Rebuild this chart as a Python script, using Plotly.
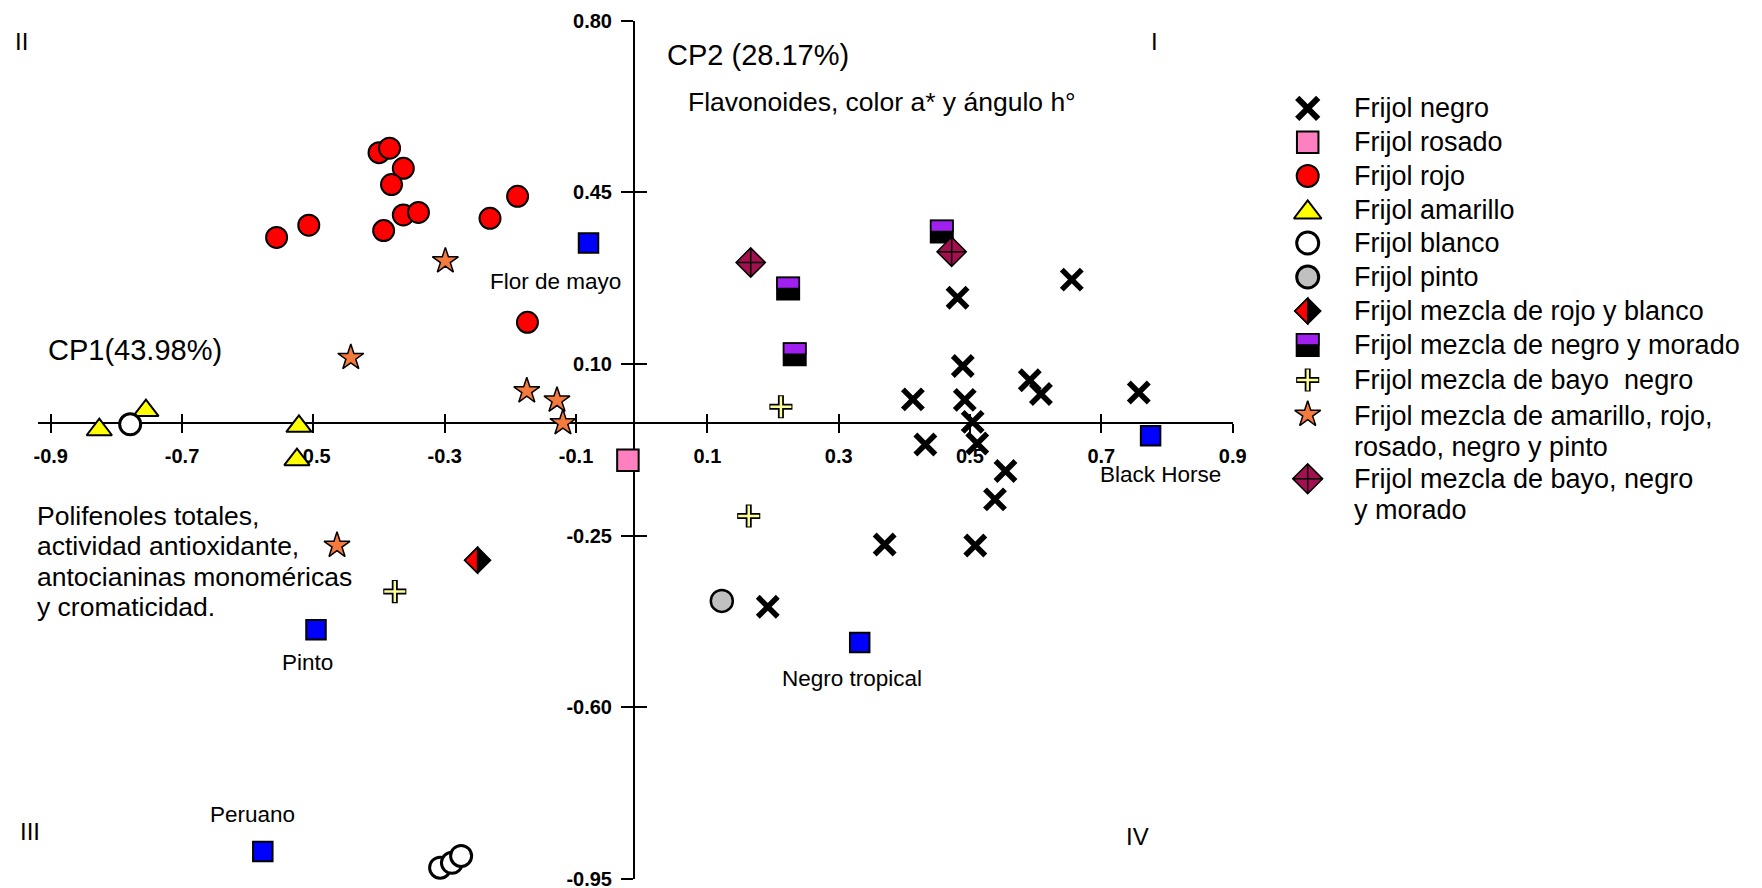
import plotly.graph_objects as go

W, H = 1762, 888
FONT = "Liberation Sans, Arial, sans-serif"

# ---------------- data: scores CP1 (x) and CP2 (y) ----------------
negro_x = [0.481, 0.655, 0.489, 0.591, 0.608, 0.757, 0.413, 0.492, 0.504, 0.432, 0.511, 0.554, 0.538, 0.370, 0.508, 0.192]
negro_y = [0.235, 0.272, 0.096, 0.067, 0.039, 0.042, 0.028, 0.027, -0.018, -0.064, -0.062, -0.118, -0.176, -0.268, -0.270, -0.395]
rosado_x = [-0.021]
rosado_y = [-0.096]
rojo_x = [-0.556, -0.507, -0.400, -0.384, -0.363, -0.381, -0.363, -0.340, -0.393, -0.231, -0.189, -0.174]
rojo_y = [0.358, 0.383, 0.531, 0.540, 0.499, 0.466, 0.404, 0.409, 0.372, 0.397, 0.442, 0.185]
amarillo_x = [-0.826, -0.755, -0.522, -0.525]
amarillo_y = [-0.034, 0.005, -0.027, -0.095]
blanco_x = [-0.779, -0.307, -0.289, -0.275]
blanco_y = [-0.023, -0.927, -0.917, -0.903]
pinto_x = [0.122]
pinto_y = [-0.383]
rojo_blanco_x = [-0.250]
rojo_blanco_y = [-0.300]
negro_morado_x = [0.457, 0.223, 0.233]
negro_morado_y = [0.370, 0.254, 0.120]
bayo_negro_x = [-0.376, 0.163, 0.212]
bayo_negro_y = [-0.364, -0.210, 0.013]
mezcla5_x = [-0.299, -0.443, -0.175, -0.129, -0.120, -0.464]
mezcla5_y = [0.310, 0.113, 0.045, 0.026, -0.020, -0.270]
bayo_negro_morado_x = [0.166, 0.472]
bayo_negro_morado_y = [0.307, 0.329]
variedades = ["Flor de mayo", "Pinto", "Peruano", "Negro tropical", "Black Horse"]
variedades_x = [-0.081, -0.496, -0.577, 0.332, 0.775]
variedades_y = [0.347, -0.442, -0.894, -0.468, -0.046]

x_ticks = [-0.9, -0.7, -0.5, -0.3, -0.1, 0.1, 0.3, 0.5, 0.7, 0.9]
x_tick_text = ["-0.9", "-0.7", "-0.5", "-0.3", "-0.1", "0.1", "0.3", "0.5", "0.7", "0.9"]
y_ticks = [0.80, 0.45, 0.10, -0.25, -0.60, -0.95]
y_tick_text = ["0.80", "0.45", "0.10", "-0.25", "-0.60", "-0.95"]

legend_labels = [
    ["Frijol negro"], ["Frijol rosado"], ["Frijol rojo"], ["Frijol amarillo"],
    ["Frijol blanco"], ["Frijol pinto"], ["Frijol mezcla de rojo y blanco"],
    ["Frijol mezcla de negro y morado"], ["Frijol mezcla de bayo\u00a0 negro"],
    ["Frijol mezcla de amarillo, rojo,", "rosado, negro y pinto"],
    ["Frijol mezcla de bayo, negro", "y morado"],
]


def fx(px):
    return px / W


def fy(py):
    return 1 - py / H


# ---------------- styles ----------------
ST = {
    "negro": dict(symbol="x-thin", size=20, color="black", line=dict(color="black", width=5.5)),
    "rosado": dict(symbol="square", size=21.5, color="#ff80c0", line=dict(color="black", width=2)),
    "rojo": dict(symbol="circle", size=21, color="#ff0000", line=dict(color="black", width=2)),
    "amarillo": dict(symbol="triangle-up", size=22, color="#ffff00", line=dict(color="black", width=2)),
    "blanco": dict(symbol="circle", size=21, color="white", line=dict(color="black", width=3)),
    "pinto": dict(symbol="circle", size=22, color="#c0c0c0", line=dict(color="black", width=2.5)),
    "rojo_blanco": dict(symbol="diamond", size=19.5, color="black", line=dict(color="black", width=2)),
    "negro_morado": dict(symbol="square", size=22, color="black", line=dict(color="black", width=2)),
    "bayo_out": dict(symbol="cross-thin", size=16.5, color="black", line=dict(color="black", width=6)),
    "bayo_in": dict(symbol="cross-thin", size=15, color="#ffff99", line=dict(color="#ffff99", width=2.5)),
    "mezcla5": dict(symbol="star", size=19.5, color="#f47a3e", line=dict(color="black", width=1.5)),
    "bnm": dict(symbol="diamond-cross", size=22.5, color="#a3104f", line=dict(color="black", width=1.5)),
    "var": dict(symbol="square", size=19.5, color="#0000ff", line=dict(color="black", width=2)),
}

fig = go.Figure()


def add(xs, ys, st, xa="x", ya="y"):
    fig.add_trace(go.Scatter(x=xs, y=ys, mode="markers", marker=st, xaxis=xa, yaxis=ya,
                             cliponaxis=False, showlegend=False, hoverinfo="skip"))


shapes = []


def half_diamond(x, y, size, xref, yref):
    r = 1.3 * size / 2
    shapes.append(dict(type="path", xref=xref, yref=yref, xsizemode="pixel", ysizemode="pixel",
                       xanchor=x, yanchor=y, path=f"M0,{-r} L{-r},0 L0,{r} Z",
                       fillcolor="#ff0000", line=dict(color="black", width=1.5), layer="above"))


def half_square(x, y, size, xref, yref):
    r = size / 2
    shapes.append(dict(type="path", xref=xref, yref=yref, xsizemode="pixel", ysizemode="pixel",
                       xanchor=x, yanchor=y, path=f"M{-r},0 L{r},0 L{r},{r} L{-r},{r} Z",
                       fillcolor="#a020f0", line=dict(color="black", width=1.5), layer="above"))


# ---------------- data traces ----------------
add(variedades_x, variedades_y, ST["var"])
add(rojo_x, rojo_y, ST["rojo"])
add(amarillo_x, amarillo_y, ST["amarillo"])
add(blanco_x, blanco_y, ST["blanco"])
add(pinto_x, pinto_y, ST["pinto"])
add(rosado_x, rosado_y, ST["rosado"])
add(mezcla5_x, mezcla5_y, ST["mezcla5"])
add(bayo_negro_x, bayo_negro_y, ST["bayo_out"])
add(bayo_negro_x, bayo_negro_y, ST["bayo_in"])
add(rojo_blanco_x, rojo_blanco_y, ST["rojo_blanco"])
add(negro_morado_x, negro_morado_y, ST["negro_morado"])
add(bayo_negro_morado_x, bayo_negro_morado_y, ST["bnm"])
add(negro_x, negro_y, ST["negro"])
for xv, yv in zip(rojo_blanco_x, rojo_blanco_y):
    half_diamond(xv, yv, ST["rojo_blanco"]["size"], "x", "y")
for xv, yv in zip(negro_morado_x, negro_morado_y):
    half_square(xv, yv, ST["negro_morado"]["size"], "x", "y")

# ---------------- custom legend (paper-fraction overlay axes) ----------------
LEG_X = 1307.7
TXT_X = 1352
row_y = [108.3, 142.3, 176, 209.5, 243, 277, 311, 345, 380, 416, 479.3]
LINE2 = 30.5
leg_styles = [
    [dict(ST["negro"], size=21, line=dict(color="black", width=6))],
    [dict(ST["rosado"], size=21.5)],
    [dict(ST["rojo"], size=22)],
    [dict(ST["amarillo"], size=24)],
    [dict(ST["blanco"], size=22)],
    [dict(ST["pinto"], size=22, line=dict(color="black", width=3))],
    [dict(ST["rojo_blanco"], size=19.5)],
    [dict(ST["negro_morado"], size=22)],
    [ST["bayo_out"], ST["bayo_in"]],
    [ST["mezcla5"]],
    [dict(ST["bnm"], size=23)],
]
leg_marker_dy = [0, 0, 0, 3, 0, 0, 0, 0, 0, -1.5, -0.5]
for i, sts in enumerate(leg_styles):
    for st in sts:
        add([fx(LEG_X)], [fy(row_y[i] + leg_marker_dy[i])], st, "x2", "y2")
half_diamond(fx(LEG_X), fy(row_y[6]), 19.5, "x2", "y2")
half_square(fx(LEG_X), fy(row_y[7]), 22, "x2", "y2")

annotations = []


def text(px, py, s, size, xanchor="left", weight="normal"):
    annotations.append(dict(x=fx(px), y=fy(py), xref="paper", yref="paper", text=s,
                            showarrow=False, xanchor=xanchor, yanchor="middle",
                            font=dict(family=FONT, size=size, color="black", weight=weight)))


for i, lines in enumerate(legend_labels):
    for j, ln in enumerate(lines):
        text(TXT_X, row_y[i] + j * LINE2, ln, 27)

# variety labels placed relative to their points
var_shift = [(-33.5, -38.5), (-8.6, -33), (-10.6, 36.6), (-7.6, -35.6), (9.8, -39)]
for name, xv, yv, (dx, dy) in zip(variedades, variedades_x, variedades_y, var_shift):
    annotations.append(dict(x=xv, y=yv, xref="x", yref="y", text=name, showarrow=False,
                            xshift=dx, yshift=dy, xanchor="center", yanchor="middle",
                            font=dict(family=FONT, size=22.5, color="black")))

# axis titles / descriptors
text(665, 54.8, "CP2 (28.17%)", 29)
text(686, 102.2, "Flavonoides, color a* y ángulo h°", 26.5)
text(45.5, 349.8, "CP1(43.98%)", 29)
for k, ln in enumerate(["Polifenoles totales,", "actividad antioxidante,",
                        "antocianinas monoméricas", "y cromaticidad."]):
    text(34.5, 515.5 + 30.5 * k, ln, 26.5)
# quadrants
text(21.7, 41.7, "II", 24, "center")
text(1154, 41.7, "I", 24, "center")
text(30, 831, "III", 24, "center")
text(1137.5, 836, "IV", 24, "center")

# ---------------- axes ----------------
XR = [-0.9189, 0.9001]
YR = [-0.9502, 0.8001]
x_dom = [fx(38.3), fx(1232.75)]
y_dom = [fy(879.1), fy(20.65)]
xpos = fy(423.3)
ypos = fx(634)
tickfont = dict(family=FONT, size=20, color="black", weight="bold")

common = dict(showgrid=False, zeroline=False, layer="below traces", tickcolor="black",
              tickwidth=2, ticklabeloverflow="allow", automargin=False)

fig.update_layout(
    template="none",
    width=W, height=H, margin=dict(l=0, r=0, t=0, b=0, pad=0, autoexpand=False),
    paper_bgcolor="white", plot_bgcolor="rgba(0,0,0,0)",
    showlegend=False,
    xaxis=dict(domain=x_dom, range=XR, anchor="free", position=xpos, showline=True,
               linecolor="black", linewidth=2, ticks="outside", ticklen=9,
               tickvals=x_ticks, ticktext=x_tick_text, tickfont=tickfont,
               ticklabelstandoff=6, **common),
    xaxis3=dict(overlaying="x", range=XR, anchor="free", position=xpos, showline=False,
                ticks="inside", ticklen=9, tickvals=x_ticks, showticklabels=False, **common),
    yaxis=dict(domain=y_dom, range=YR, anchor="free", position=ypos, showline=True,
               linecolor="black", linewidth=2, ticks="outside", ticklen=12,
               tickvals=y_ticks, ticktext=y_tick_text, tickfont=tickfont,
               ticklabelstandoff=5, **common),
    yaxis3=dict(overlaying="y", range=YR, anchor="free", position=ypos, showline=False,
                ticks="inside", ticklen=12, tickvals=y_ticks, showticklabels=False, **common),
    xaxis2=dict(domain=[0, 1], range=[0, 1], visible=False, anchor="y2", fixedrange=True, automargin=False),
    yaxis2=dict(domain=[0, 1], range=[0, 1], visible=False, anchor="x2", fixedrange=True, automargin=False),
    shapes=shapes,
    annotations=annotations,
)
# attach dummy trace so overlay tick axes are rendered
fig.add_trace(go.Scatter(x=[None], y=[None], xaxis="x3", yaxis="y3", showlegend=False, hoverinfo="skip"))

fig.write_html("out.html")
